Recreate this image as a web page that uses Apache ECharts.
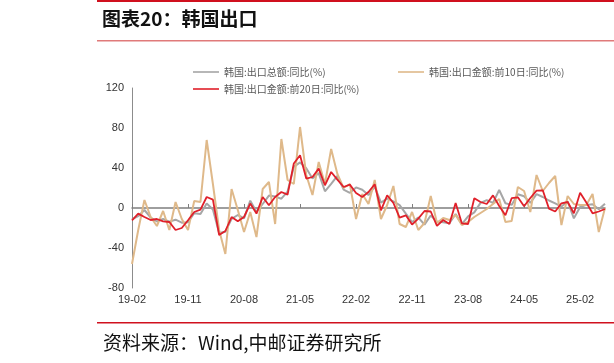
<!DOCTYPE html>
<html>
<head>
<meta charset="utf-8">
<script src="https://cdn.jsdelivr.net/npm/echarts@6/dist/echarts.min.js"></script>
<style>
html,body{margin:0;padding:0;background:#fff;}
#c{width:614px;height:363px;}
</style>
</head>
<body>
<div id="c"></div>
<script>
const categories = [
'19-02','19-03','19-04','19-05','19-06','19-07','19-08','19-09','19-10','19-11','19-12',
'20-01','20-02','20-03','20-04','20-05','20-06','20-07','20-08','20-09','20-10','20-11','20-12',
'21-01','21-02','21-03','21-04','21-05','21-06','21-07','21-08','21-09','21-10','21-11','21-12',
'22-01','22-02','22-03','22-04','22-05','22-06','22-07','22-08','22-09','22-10','22-11','22-12',
'23-01','23-02','23-03','23-04','23-05','23-06','23-07','23-08','23-09','23-10','23-11','23-12',
'24-01','24-02','24-03','24-04','24-05','24-06','24-07','24-08','24-09','24-10','24-11','24-12',
'25-01','25-02','25-03','25-04','25-05','25-06'
];
const seriesNames = ['韩国:出口总额:同比(%)','韩国:出口金额:前10日:同比(%)','韩国:出口金额:前20日:同比(%)'];
const exportTotal = [
-11.4,-8.2,-2.0,-9.5,-13.5,-11.0,-13.6,-11.7,-14.7,-14.3,-5.2,
-6.1,4.5,-1.4,-25.1,-23.7,-10.9,-7.0,-10.3,7.3,-3.8,4.0,12.4,
11.4,9.3,16.4,41.1,45.6,39.7,29.6,34.9,16.7,24.1,32.1,18.3,
15.2,20.6,18.2,12.9,21.3,5.4,9.4,6.6,2.8,-5.7,-14.0,-9.5,
-16.6,-7.5,-13.6,-14.2,-15.2,-6.0,-16.2,-8.4,-4.4,5.1,7.8,5.1,
18.0,4.8,3.1,13.8,11.7,5.1,13.9,11.0,7.5,4.6,1.4,6.6,
-10.3,1.0,3.1,3.7,-1.3,4.3
];
const export10d = [
-56,-22,8,-9,-18,-3,-22,6,-11,-22,7,
6,68,24,-22,-46,19,-2,-24,-4,-29,19,26,
-16,69,28,24,81,33,13,46,24,59,34,20,
24,-11,14,4,28,-11,3,22,-16,-19,-4,-22,
-15,12,-15,-10,-12,-7,-17,-14,-9,-5,-1,4,
9,-14,-13,21,17,-4,33,17,25,32,-17,12,
4,3,3,14,-24,0
];
const export20d = [
-12.3,-5.6,-9,-12,-11,-13.3,-14,-22,-20,-12.3,-4,
-1.6,11,8.4,-27,-23,-9,-13.3,-9,4.4,-5.6,11,2.7,
11,16,13.4,44.5,52.7,29.4,31,39.4,22.7,36,28.4,21,
23.4,15,11,16,23.7,-2.3,12.7,5,-9.6,-7.3,-16.6,-10.6,
-3,-3.5,-17.8,-12,-16,5,-15.3,-16,9.8,6,4,12.6,
2,-7.3,9.8,10.7,1.7,10,17.4,17.7,-0.6,-3.5,4.7,6,
-5.3,15.2,5.5,-5.3,-3.5,-1
];
const yTicks = {min:-80, max:120, interval:40};

const colors = ['#a6a6a6','#dfb98a','#e0202a'];
const chart = echarts.init(document.getElementById('c'), null, {renderer:'canvas'});
const legendText = {fontSize:10, color:'#595959', fontFamily:'Noto Sans CJK SC'};
function legendAt(name, left, top){
  return {data:[name], left:left, top:top, itemWidth:26, itemHeight:10, itemGap:0,
    icon:'path://M0,4.2L26,4.2L26,5.8L0,5.8Z', textStyle:legendText, padding:0, selectedMode:false};
}
chart.setOption({
  animation:false,
  color:colors,
  title:{text:'图表20：韩国出口', left:102, top:9, padding:0,
    textStyle:{fontSize:19, fontWeight:'bold', color:'#111', fontFamily:'Noto Sans CJK SC'}},
  legend:[
    legendAt(seriesNames[0],193,67),
    legendAt(seriesNames[1],398,67),
    legendAt(seriesNames[2],193,84)
  ],
  grid:{left:132, right:9, top:88, bottom:75, containLabel:false},
  xAxis:[{
    type:'category', data:categories, boundaryGap:false, position:'bottom',
    axisLine:{show:false, onZero:false}, axisTick:{show:false},
    axisLabel:{interval:8, margin:6, fontSize:11, color:'#333', fontFamily:'Liberation Sans'}
  },{
    type:'category', data:categories, boundaryGap:false, position:'bottom',
    axisLine:{show:true, onZero:true, lineStyle:{color:'#7f7f7f', width:1.5}},
    axisTick:{show:true, inside:true, interval:8, length:4, lineStyle:{color:'#7f7f7f'}},
    axisLabel:{show:false}
  }],
  yAxis:{
    type:'value', min:yTicks.min, max:yTicks.max, interval:yTicks.interval,
    splitLine:{show:false},
    axisLine:{show:true, lineStyle:{color:'#8c8c8c', width:1}},
    axisTick:{show:false},
    axisLabel:{fontSize:11, color:'#333', margin:8, fontFamily:'Liberation Sans'}
  },
  series:[
    {name:seriesNames[0], type:'line', data:exportTotal, symbol:'none', lineStyle:{width:2, color:colors[0]}, z:2},
    {name:seriesNames[1], type:'line', data:export10d, symbol:'none', lineStyle:{width:2, color:colors[1]}, z:3},
    {name:seriesNames[2], type:'line', data:export20d, symbol:'none', lineStyle:{width:1.8, color:colors[2]}, z:4}
  ],
  graphic:[
    {type:'rect', shape:{x:97, y:0, width:517, height:2}, style:{fill:'#d0101e'}, silent:true},
    {type:'rect', shape:{x:97, y:40, width:517, height:1.5}, style:{fill:'#e07a7a'}, silent:true},
    {type:'rect', shape:{x:97, y:322, width:517, height:1.5}, style:{fill:'#d0101e'}, silent:true},
    {type:'text', left:103, top:333, style:{text:'资料来源：Wind,中邮证券研究所', fontSize:19, fill:'#111', fontFamily:'Noto Sans CJK SC'}, silent:true}
  ]
});
</script>
</body>
</html>
